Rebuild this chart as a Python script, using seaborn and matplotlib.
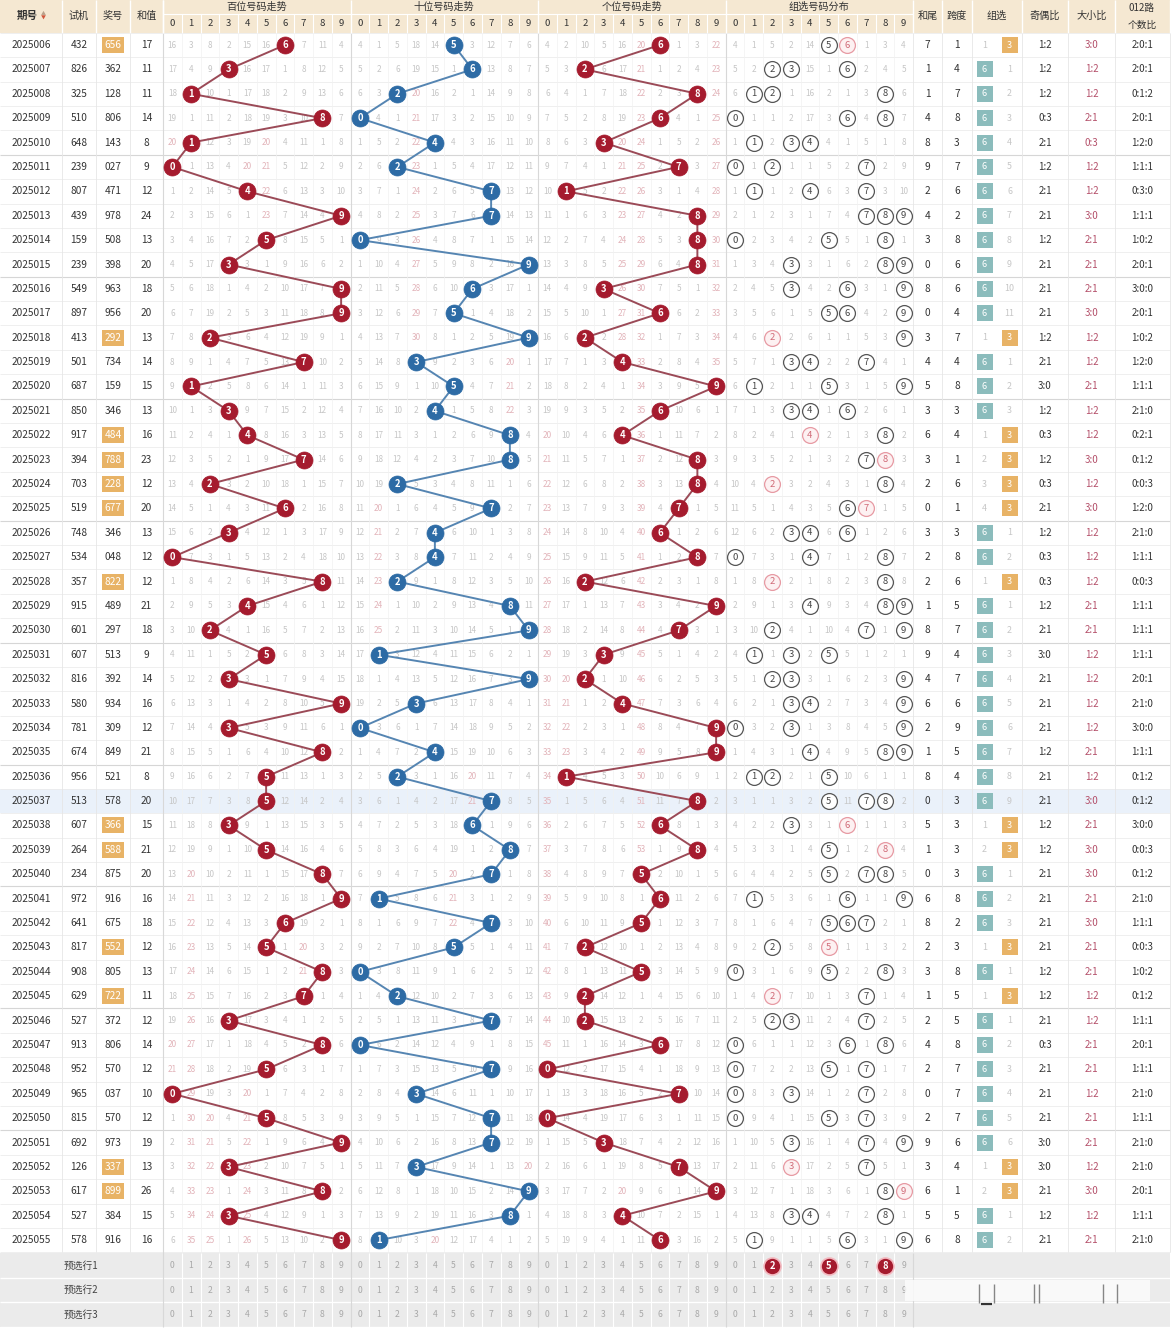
import numpy as np
import pandas as pd
import matplotlib
matplotlib.use("Agg")
import matplotlib.pyplot as plt
import seaborn as sns
from matplotlib.patches import Rectangle

# ---------------- data ----------------
issues = ["2025006", "2025007", "2025008", "2025009", "2025010", "2025011", "2025012", "2025013",
          "2025014", "2025015", "2025016", "2025017", "2025018", "2025019", "2025020", "2025021",
          "2025022", "2025023", "2025024", "2025025", "2025026", "2025027", "2025028", "2025029",
          "2025030", "2025031", "2025032", "2025033", "2025034", "2025035", "2025036", "2025037",
          "2025038", "2025039", "2025040", "2025041", "2025042", "2025043", "2025044", "2025045",
          "2025046", "2025047", "2025048", "2025049", "2025050", "2025051", "2025052", "2025053",
          "2025054", "2025055"]
trial = ["432", "826", "325", "510", "648", "239", "807", "439", "159", "239",
         "549", "897", "413", "501", "687", "850", "917", "394", "703", "519",
         "748", "534", "357", "915", "601", "607", "816", "580", "781", "674",
         "956", "513", "607", "264", "234", "972", "641", "817", "908", "629",
         "527", "913", "952", "965", "815", "692", "126", "617", "527", "578"]
draws = ["656", "362", "128", "806", "143", "027", "471", "978", "508", "398",
         "963", "956", "292", "734", "159", "346", "484", "788", "228", "677",
         "346", "048", "822", "489", "297", "513", "392", "934", "309", "849",
         "521", "578", "366", "588", "875", "916", "675", "552", "805", "722",
         "372", "806", "570", "037", "570", "973", "337", "899", "384", "916"]
# omission values shown in the first row (None = drawn digit)
bai_first = [16, 3, 8, 2, 15, 16, None, 7, 11, 4]
shi_first = [4, 1, 5, 18, 14, None, 3, 12, 7, 6]
ge_first = [4, 2, 10, 5, 16, 20, None, 1, 3, 22]
zu_first = [4, 1, 5, 2, 14, None, None, 1, 3, 4]
z6_first = 1
pred_row1_zu = [2, 5, 8]
pred_labels = ["预选行1", "预选行2", "预选行3"]
highlight_issue = "2025037"

# ---------------- style ----------------
sns.set_theme(style="white")
plt.rcParams["font.family"] = ["Noto Sans CJK SC", "DejaVu Sans"]

HEAD_BG = "#f5e8d2"
TEXT = "#333333"
OMIT = "#c6c6c6"
OMIT_HI = "#e2b3b9"
RED = "#a51b2e"
RED_LINE = "#9b4a57"
BLUE = "#2d6ba5"
BLUE_LINE = "#5585b2"
ORANGE = "#e8b366"
TEAL = "#8bbcbc"
PINK_TEXT = "#b4506a"
PRED_BG = "#ebebeb"

W, H = 1176, 1331
fig = plt.figure(figsize=(W / 100, H / 100), dpi=100)
ax = fig.add_axes([0, 0, 1, 1])

# layout
Y0, RH = 45.0, 24.39
HEAD_B = Y0 - RH / 2
left_edges = [0, 62, 96, 130, 163]
CW = 18.75
BLK = [163 + 187.5 * k for k in range(4)]
right_edges = [913, 942, 972, 1022, 1068, 1115, 1170]
n = len(issues)
DATA_B = Y0 + RH * (n - 0.5)
PRH = 24.5
PRED_T = DATA_B + 1


def ry(i):
    return Y0 + RH * i


def cx(b, d):
    return BLK[b] + (d + 0.5) * CW


def txt(x, y, s, size=7.3, color=TEXT, **kw):
    ax.text(x, y, s, ha="center", va="center", fontsize=size, color=color, **kw)


# ---------------- backgrounds ----------------
ax.add_patch(Rectangle((0, 0), 1170, HEAD_B, color=HEAD_BG, zorder=0, lw=0))
hi = issues.index(highlight_issue)
ax.add_patch(Rectangle((0, ry(hi) - RH / 2), 1170, RH, color="#eaf1fa", zorder=0, lw=0))
ax.add_patch(Rectangle((0, PRED_T), 1170, PRH * 3, color=PRED_BG, zorder=0, lw=0))

# grid lines
for i in range(n + 1):
    yb = ry(i) - RH / 2
    if i % 5 == 0 and 0 < i < n:
        ax.hlines(yb, 0, 1170, color="#d6d6d6", lw=0.8, zorder=1)
    else:
        ax.hlines(yb, 0, 1170, color="#ececec", lw=0.6, zorder=1)
ax.hlines(14, BLK[0], BLK[3] + 187.5, color="#ffffff", lw=0.8, zorder=1)
for k in range(1, 4):
    ax.hlines(PRED_T + PRH * k, 0, 1170, color="#ffffff", lw=1.0, zorder=1)
for x in left_edges[1:] + right_edges:
    ax.vlines(x, 0, HEAD_B, color="#ffffff", lw=1.0, zorder=1)
    ax.vlines(x, HEAD_B, DATA_B, color="#e6e6e6", lw=0.6, zorder=1)
for b in range(4):
    for d in range(1, 10):
        x = BLK[b] + d * CW
        ax.vlines(x, 14, HEAD_B, color="#ffffff", lw=0.8, zorder=1)
        ax.vlines(x, HEAD_B, DATA_B, color="#f1f1f1", lw=0.5, zorder=1)
        ax.vlines(x, PRED_T, PRED_T + 3 * PRH, color="#ffffff", lw=0.8, zorder=1)
    ax.vlines(BLK[b], HEAD_B, PRED_T + 3 * PRH, color="#d8d8d8", lw=0.8, zorder=1)
    ax.vlines(BLK[b], 0, HEAD_B, color="#ffffff", lw=1.0, zorder=1)
ax.vlines(913, PRED_T, PRED_T + 3 * PRH, color="#d8d8d8", lw=0.8, zorder=1)

# ---------------- header ----------------
hy = HEAD_B / 2 - 0.5
txt(27, hy, "期号", 7.6, weight="bold")
ax.text(43, hy - 2.6, "▲", ha="center", va="center", fontsize=3.6, color="#b9a18a")
ax.text(43, hy + 2.4, "▼", ha="center", va="center", fontsize=3.6, color="#d0553a")
for x0, x1, s in [(62, 96, "试机"), (96, 130, "奖号"), (130, 163, "和值"),
                  (913, 942, "和尾"), (942, 972, "跨度"), (972, 1022, "组选"),
                  (1022, 1068, "奇偶比"), (1068, 1115, "大小比")]:
    txt((x0 + x1) / 2, hy, s, 7.3)
txt(1142, 8.5, "012路", 7.0)
txt(1142, 24.5, "个数比", 7.0)
for b, s in enumerate(["百位号码走势", "十位号码走势", "个位号码走势", "组选号码分布"]):
    txt(BLK[b] + 93.75, 6.5, s, 7.3)
    for d in range(10):
        txt(cx(b, d), 24, str(d), 6.9)

# ---------------- rows ----------------
digits = [[int(c) for c in s] for s in draws]
om = [list(bai_first), list(shi_first), list(ge_first), list(zu_first)]
z6 = z3 = None
ball_rows = []
circ_rows = []
for i in range(n):
    ds = digits[i]
    y = ry(i)
    group3 = len(set(ds)) == 2
    # update omissions
    if i > 0:
        prev = digits[i - 1]
        for b in range(3):
            om[b] = [1 if prev[b] == d else om[b][d] + 1 for d in range(10)]
        om[3] = [1 if d in prev else om[3][d] + 1 for d in range(10)]
        pg3 = len(set(prev)) == 2
        z6 = 1 if not pg3 else z6 + 1
        z3 = 1 if pg3 else (z3 + 1 if z3 is not None else None)
    else:
        z6 = z6_first
    # left text
    txt(31, y, issues[i], 7.3)
    txt(79, y, trial[i], 7.3)
    if group3:
        ax.add_patch(Rectangle((102, y - 8), 22, 16, color=ORANGE, zorder=2, lw=0))
        txt(113, y, draws[i], 7.3, color="white", zorder=3)
    else:
        txt(113, y, draws[i], 7.3)
    s = sum(ds)
    txt(146.5, y, str(s), 7.3)
    # position blocks
    for b in range(3):
        for d in range(10):
            if ds[b] == d:
                ball_rows.append({"block": b, "x": cx(b, d), "y": y, "num": d})
            else:
                v = om[b][d]
                txt(cx(b, d), y, str(v), 5.9, color=OMIT_HI if v >= 20 else OMIT, zorder=2)
    # group distribution
    for d in range(10):
        if d in ds:
            circ_rows.append({"x": cx(3, d), "y": y, "num": d, "pair": ds.count(d) >= 2})
        else:
            v = om[3][d]
            txt(cx(3, d), y, str(v), 5.9, color=OMIT_HI if v >= 20 else OMIT, zorder=2)
    # right stats
    txt(927.5, y, str(s % 10), 7.3)
    txt(957, y, str(max(ds) - min(ds)), 7.3)
    if group3:
        txt(984.5, y, str(z6), 6.4, color=OMIT)
        ax.add_patch(Rectangle((1001.5, y - 8), 16, 16, color=ORANGE, zorder=2, lw=0))
        txt(1009.5, y, "3", 6.6, color="white", zorder=3)
    else:
        ax.add_patch(Rectangle((976.5, y - 8), 16, 16, color=TEAL, zorder=2, lw=0))
        txt(984.5, y, "6", 6.6, color="white", zorder=3)
        txt(1009.5, y, str(z3) if z3 is not None else "", 6.4, color=OMIT)
    odd = sum(1 for d in ds if d % 2 == 1)
    big = sum(1 for d in ds if d >= 5)
    r012 = [sum(1 for d in ds if d % 3 == k) for k in range(3)]
    txt(1045, y, f"{odd}:{3 - odd}", 7.0)
    txt(1091.5, y, f"{big}:{3 - big}", 7.0, color=PINK_TEXT)
    txt(1142.5, y, ":".join(str(v) for v in r012), 7.0)

balls = pd.DataFrame(ball_rows)
circs = pd.DataFrame(circ_rows)

# trend lines + balls (seaborn)
for b, lc, bc in [(0, RED_LINE, RED), (1, BLUE_LINE, BLUE), (2, RED_LINE, RED)]:
    sub = balls[balls["block"] == b].reset_index(drop=True)
    sns.lineplot(data=sub, x="x", y="y", sort=False, estimator=None, color=lc,
                 lw=1.4, ax=ax, zorder=4, legend=False)
    sns.scatterplot(data=sub, x="x", y="y", s=150, color=bc, edgecolor=bc,
                    linewidth=0.5, ax=ax, zorder=5, legend=False)
    for _, r in sub.iterrows():
        txt(r["x"], r["y"], str(int(r["num"])), 6.8, color="white", weight="bold", zorder=6)

# group circles
normal = circs[~circs["pair"]]
pair = circs[circs["pair"]]
sns.scatterplot(data=normal, x="x", y="y", s=130, facecolor="white", edgecolor="#555555",
                linewidth=0.9, ax=ax, zorder=4, legend=False)
sns.scatterplot(data=pair, x="x", y="y", s=130, facecolor="#fdf1f2", edgecolor="#e79aa3",
                linewidth=0.9, ax=ax, zorder=4, legend=False)
for _, r in circs.iterrows():
    txt(r["x"], r["y"], str(int(r["num"])), 6.8, color="#d06b78" if r["pair"] else "#444444", zorder=5)

# ---------------- prediction rows ----------------
pred_balls = []
for k, lab in enumerate(pred_labels):
    y = PRED_T + PRH * (k + 0.5)
    txt(81, y, lab, 7.0, color="#444444")
    for b in range(4):
        for d in range(10):
            if k == 0 and b == 3 and d in pred_row1_zu:
                pred_balls.append({"x": cx(b, d), "y": y, "num": d})
            else:
                txt(cx(b, d), y, str(d), 6.2, color="#a8a8a8")
pb = pd.DataFrame(pred_balls)
sns.scatterplot(data=pb, x="x", y="y", s=150, color=RED, edgecolor="#f3b8bf", linewidth=1.2,
                ax=ax, zorder=5, legend=False)
for _, r in pb.iterrows():
    txt(r["x"], r["y"], str(int(r["num"])), 6.8, color="white", weight="bold", zorder=6)

# faint overlay artefact on the lower right of the prediction rows
ax.add_patch(Rectangle((905, PRED_T + PRH + 2), 245, PRH - 3, color="white", alpha=0.75, zorder=3, lw=0))
for xa in [979, 994, 1034, 1039, 1103, 1117]:
    ax.vlines(xa, PRED_T + PRH + 6, PRED_T + 2 * PRH + 1, color="#555555", lw=1.0, alpha=0.7, zorder=4)
ax.hlines(PRED_T + 2 * PRH + 2, 981, 992, color="#333333", lw=1.6, zorder=4)

ax.set_xlim(0, W)
ax.set_ylim(H, 0)
ax.axis("off")
fig.savefig("out.png", dpi=100, facecolor="white")
